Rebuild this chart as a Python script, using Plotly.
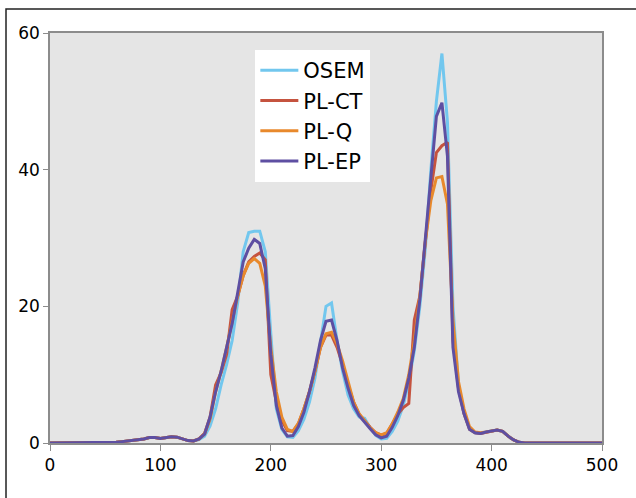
import plotly.graph_objects as go

x_vals = list(range(0, 505, 5))

osem = [0]*12 + [0.1, 0.2, 0.3, 0.35, 0.4, 0.6, 0.8, 0.8, 0.65, 0.75, 0.9, 0.85, 0.55, 0.35, 0.3, 0.5, 1.0,
        2.5, 5, 8.5, 11.5, 15, 20.5, 28, 30.8, 31, 31, 28, 16, 5, 2, 0.9, 0.8, 1.8, 3.5, 6, 9.5, 14.5, 20, 20.5,
        15, 10.5, 7, 5, 3.8, 3.6, 2.2, 1.1, 0.6, 0.7, 1.7, 3.2, 5.5, 9, 13.5, 20, 28.5, 40, 50, 57, 47, 20,
        8.5, 4.3, 2.0, 1.5, 1.4, 1.6, 1.75, 1.9, 1.7, 1.0, 0.45, 0.1] + [0]*15
pl_ct = [0]*12 + [0.1, 0.2, 0.3, 0.35, 0.4, 0.6, 0.8, 0.8, 0.65, 0.75, 0.9, 0.85, 0.55, 0.35, 0.3, 0.6, 1.4,
         3.8, 8.5, 10.3, 13, 19.5, 21.5, 24.5, 26.5, 27.3, 27.8, 26.8, 10, 6, 3.3, 1.8, 1.7, 2.8, 5, 7.5, 10.5, 14, 15.8, 15.8,
         14, 11.5, 8.5, 6, 4.2, 3.2, 2.3, 1.5, 1.15, 1.4, 2.7, 4.2, 5.2, 5.8, 18, 21.5, 29.5, 37, 42.5, 43.5, 44, 15,
         8, 4.3, 2.0, 1.5, 1.4, 1.6, 1.75, 1.9, 1.7, 1.0, 0.45, 0.1] + [0]*15
pl_q = [0]*12 + [0.1, 0.2, 0.3, 0.35, 0.4, 0.6, 0.8, 0.8, 0.65, 0.75, 0.9, 0.85, 0.55, 0.35, 0.3, 0.6, 1.3,
        3.5, 7.5, 10.5, 14, 18, 21.5, 24.5, 26.3, 27, 26.3, 23, 14, 7.5, 3.8, 2.0, 1.7, 2.9, 5, 7.5, 10.5, 14, 16, 16.2,
        14.5, 12, 9, 6, 4.3, 3.2, 2.2, 1.5, 1.2, 1.5, 2.8, 4.5, 6.5, 10, 15, 21.5, 29.5, 35.5, 38.8, 39, 35, 18,
        9, 5, 2.4, 1.6, 1.5, 1.6, 1.75, 1.9, 1.7, 1.0, 0.45, 0.1] + [0]*15
pl_ep = [0]*12 + [0.1, 0.2, 0.3, 0.35, 0.4, 0.6, 0.8, 0.8, 0.65, 0.75, 0.9, 0.85, 0.55, 0.35, 0.3, 0.6, 1.3,
         3.8, 7.5, 10.5, 14, 17.5, 22, 26.5, 28.5, 29.8, 29.2, 25.5, 13, 5.5, 2.2, 1.0, 1.1, 2.4, 4.5, 7.5, 11, 15, 17.8, 18,
         15, 11, 8, 5.5, 4, 3, 2.1, 1.2, 0.75, 1.0, 2.3, 4, 6.2, 9.5, 14, 21, 30, 40, 47.8, 49.8, 42, 14,
         7.5, 4.3, 2.0, 1.5, 1.4, 1.6, 1.75, 1.9, 1.7, 1.0, 0.45, 0.1] + [0]*15

series_names = ["OSEM", "PL-CT", "PL-Q", "PL-EP"]
series_vals = [osem, pl_ct, pl_q, pl_ep]
series_colors = ["#72c7ee", "#c5533f", "#e8892c", "#5e4fa2"]

x_ticks = [0, 100, 200, 300, 400, 500]
y_ticks = [0, 20, 40, 60]

fig = go.Figure()
for name, vals, col in zip(series_names, series_vals, series_colors):
    fig.add_trace(go.Scatter(x=x_vals, y=vals, mode="lines", name=name,
                             line=dict(color=col, width=3)))

font_family = "DejaVu Sans, Verdana, sans-serif"
fig.update_layout(
    width=636, height=498,
    margin=dict(l=50, r=34, t=33, b=55),
    paper_bgcolor="white",
    plot_bgcolor="#e5e5e5",
    font=dict(family=font_family, size=17, color="black"),
    showlegend=True,
    legend=dict(x=0.372, y=0.9585, xanchor="left", yanchor="top",
                bgcolor="white", borderwidth=0,
                font=dict(family=font_family, size=21, color="black"),
                itemwidth=38),
    xaxis=dict(range=[0, 500], tickvals=x_ticks, showgrid=False, zeroline=False,
               showline=True, linecolor="#8c8c8c", linewidth=1.5, mirror=True,
               ticks="outside", ticklen=6, tickcolor="#8c8c8c", tickwidth=1),
    yaxis=dict(range=[0, 60], tickvals=y_ticks, showgrid=False, zeroline=False,
               showline=True, linecolor="#8c8c8c", linewidth=1.5, mirror=True,
               ticks="outside", ticklen=5, tickcolor="#8c8c8c", tickwidth=1),
    shapes=[dict(type="rect", xref="paper", yref="paper",
                 x0=-0.0797, y0=-0.3, x1=1.2, y1=1.0585,
                 line=dict(color="#222222", width=1.5), fillcolor="rgba(0,0,0,0)")],
)

fig.write_html("out.html",
               config={"displayModeBar": False},
               post_script="document.body.style.margin='0';document.body.style.overflow='hidden';")
